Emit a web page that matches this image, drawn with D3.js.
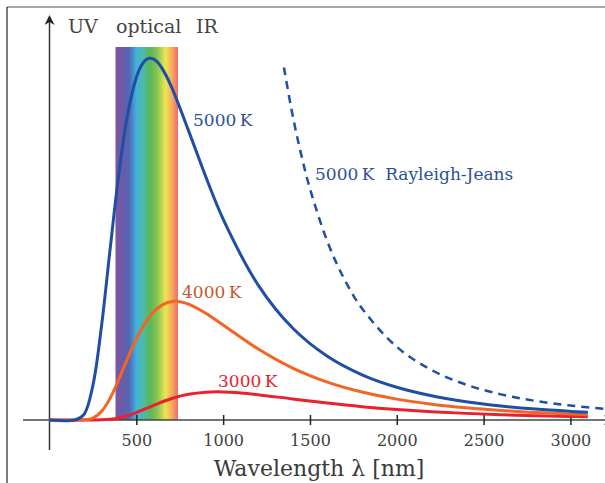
<!DOCTYPE html>
<html>
<head>
<meta charset="utf-8">
<script src="https://cdn.jsdelivr.net/npm/d3@7"></script>
<style>
  body { margin: 0; background: #fff; }
</style>
</head>
<body>
<svg id="chart"></svg>
<script>
// wavelength grid (nm) and spectral radiance, 5000 K peak = 100
var lambda5000 = [0, 150, 200, 250, 300, 350, 400, 450, 500, 525, 550, 575, 600, 625, 650, 700, 800, 900, 1000,
  1200, 1400, 1600, 1800, 2000, 2200, 2400, 2600, 2800, 3000, 3100];
var values5000 = [0, 0.06, 1.64, 9.56, 26.15, 47.6, 68.3, 84.4, 94.6, 97.6, 99.3, 99.95, 99.7, 98.7, 97.0, 92.3, 80.0, 67.2, 55.5,
  37.4, 25.4, 17.6, 12.48, 9.04, 6.69, 5.04, 3.87, 3.01, 2.38, 2.12];

var lambda4000 = [0, 200, 250, 300, 350, 400, 450, 500, 550, 600, 650, 700, 750, 800, 900, 1000,
  1200, 1400, 1600, 1800, 2000, 2200, 2400, 2600, 2800, 3000, 3100];
var values4000 = [0, 0.05, 0.54, 2.38, 6.10, 11.30, 17.05, 22.38, 26.74, 29.89, 31.81, 32.68, 32.69, 32.03, 29.51, 26.23,
  19.66, 14.35, 10.48, 7.72, 5.77, 4.37, 3.36, 2.62, 2.07, 1.65, 1.48];

var lambda3000 = [0, 250, 300, 350, 400, 450, 500, 600, 700, 800, 900, 1000, 1100, 1200,
  1400, 1600, 1800, 2000, 2200, 2400, 2600, 2800, 3000, 3100];
var values3000 = [0, 0.005, 0.04, 0.20, 0.56, 1.19, 2.03, 4.05, 5.87, 7.09, 7.68, 7.76, 7.48, 7.00,
  5.81, 4.67, 3.69, 2.91, 2.30, 1.83, 1.47, 1.19, 0.97, 0.88];

var lambdaRJ = [1350, 1400, 1450, 1500, 1600, 1700, 1800, 2000, 2200, 2400, 2600, 2800, 3000, 3200];
var valuesRJ = [97.4, 84.2, 73.2, 63.9, 49.35, 38.72, 30.81, 20.21, 13.81, 9.75, 7.08, 5.26, 3.99, 3.08];

var tickValues = [500, 1000, 1500, 2000, 2500, 3000];
var visibleBand = [380, 740];
var bandLabels = ['UV', 'optical', 'IR'];

var serif = '"DejaVu Serif", serif';
var svgWidth = 605, svgHeight = 483;

var svg = d3.select('#chart')
  .attr('width', svgWidth)
  .attr('height', svgHeight);

var xScale = d3.scaleLinear()
  .domain([0, 3100])
  .range([49.5, 587.8]);

var yScale = d3.scaleLinear()
  .domain([0, 100])
  .range([420, 58]);

// frame
svg.append('line').attr('x1', 7).attr('x2', 605).attr('y1', 7).attr('y2', 7)
  .attr('stroke', '#8a8a8a').attr('stroke-width', 1.5);
svg.append('line').attr('x1', 7).attr('x2', 7).attr('y1', 7).attr('y2', 483)
  .attr('stroke', '#222').attr('stroke-width', 1.2);

// rainbow band
var defs = svg.append('defs');
var grad = defs.append('linearGradient').attr('id', 'rainbow')
  .attr('x1', '0%').attr('x2', '100%').attr('y1', '0%').attr('y2', '0%');
var stops = [
  [0, '#7e56a0'], [0.12, '#6a5aaa'], [0.22, '#5068b6'], [0.34, '#42b4dc'],
  [0.46, '#4fbb9c'], [0.56, '#5cb755'], [0.68, '#8fc754'], [0.8, '#eee453'],
  [0.9, '#f5ad5c'], [1, '#f06b6f']
];
grad.selectAll('stop')
  .data(stops)
  .enter()
  .append('stop')
  .attr('offset', function(d) { return d[0]; })
  .attr('stop-color', function(d) { return d[1]; });

svg.append('rect')
  .attr('x', xScale(visibleBand[0]))
  .attr('y', 47)
  .attr('width', xScale(visibleBand[1]) - xScale(visibleBand[0]))
  .attr('height', yScale(0) - 47)
  .attr('fill', 'url(#rainbow)');

// arrow heads
defs.append('marker').attr('id', 'arrow')
  .attr('viewBox', '0 0 10 10').attr('refX', 8).attr('refY', 5)
  .attr('markerWidth', 10).attr('markerHeight', 10)
  .attr('markerUnits', 'userSpaceOnUse')
  .attr('orient', 'auto')
  .append('path')
  .attr('d', 'M0,0 L10,5 L0,10 L3,5 Z')
  .attr('fill', '#222');

// x axis
svg.append('line')
  .attr('x1', 23).attr('x2', 612)
  .attr('y1', yScale(0)).attr('y2', yScale(0))
  .attr('stroke', '#444').attr('stroke-width', 1.5)
  .attr('marker-end', 'url(#arrow)');

// y axis
svg.append('line')
  .attr('x1', xScale(0)).attr('x2', xScale(0))
  .attr('y1', 450).attr('y2', 17)
  .attr('stroke', '#333').attr('stroke-width', 1.5)
  .attr('marker-end', 'url(#arrow)');

var xAxis = d3.axisBottom(xScale)
  .tickValues(tickValues)
  .tickFormat(d3.format('d'))
  .tickSize(5)
  .tickPadding(10);

var gx = svg.append('g')
  .attr('transform', 'translate(0,' + yScale(0) + ')')
  .call(xAxis)
  .attr('font-family', serif);
gx.select('.domain').remove();
gx.selectAll('.tick line')
  .attr('y1', -5)
  .attr('stroke', '#222')
  .attr('stroke-width', 1.5);
gx.selectAll('.tick text')
  .attr('fill', '#404040')
  .style('font-size', '16px')
  .style('font-family', serif);

svg.append('text')
  .attr('x', 319)
  .attr('y', 476)
  .attr('text-anchor', 'middle')
  .attr('fill', '#3a3a3a')
  .style('font-family', serif)
  .style('font-size', '22px')
  .text('Wavelength \u03bb [nm]');

// band labels
var bandX = [68, 116, 196];
svg.selectAll('.band-label')
  .data(bandLabels)
  .enter()
  .append('text')
  .attr('class', 'band-label')
  .attr('x', function(d, i) { return bandX[i]; })
  .attr('y', 33)
  .attr('fill', '#444')
  .style('font-family', serif)
  .style('font-size', '19px')
  .text(function(d) { return d; });

// curves
var line = d3.line()
  .x(function(d) { return xScale(d[0]); })
  .y(function(d) { return yScale(d[1]); })
  .curve(d3.curveCatmullRom.alpha(0.5));

var series = [
  { l: lambda3000, v: values3000, color: '#e8212d' },
  { l: lambda4000, v: values4000, color: '#f26524' },
  { l: lambda5000, v: values5000, color: '#1f4ea6' }
];

svg.selectAll('.curve')
  .data(series)
  .enter()
  .append('path')
  .attr('class', 'curve')
  .attr('fill', 'none')
  .attr('stroke', function(d) { return d.color; })
  .attr('stroke-width', 3)
  .attr('d', function(d) { return line(d3.zip(d.l, d.v)); });

svg.append('path')
  .attr('fill', 'none')
  .attr('stroke', '#1f4ea6')
  .attr('stroke-width', 2.5)
  .attr('stroke-dasharray', '8,6')
  .attr('d', line(d3.zip(lambdaRJ, valuesRJ)));

// curve labels
var labels = [
  { text: '5000\u2009K', x: 193, y: 126, color: '#2b4f9e' },
  { text: '5000\u2009K  Rayleigh-Jeans', x: 315, y: 180, color: '#2b4f9e' },
  { text: '4000\u2009K', x: 182, y: 298, color: '#c4572e' },
  { text: '3000\u2009K', x: 218, y: 387, color: '#e8212d' }
];
svg.selectAll('.curve-label')
  .data(labels)
  .enter()
  .append('text')
  .attr('class', 'curve-label')
  .attr('x', function(d) { return d.x; })
  .attr('y', function(d) { return d.y; })
  .attr('fill', function(d) { return d.color; })
  .style('font-family', serif)
  .style('font-size', '17px')
  .style('white-space', 'pre')
  .text(function(d) { return d.text; });
</script>
</body>
</html>
